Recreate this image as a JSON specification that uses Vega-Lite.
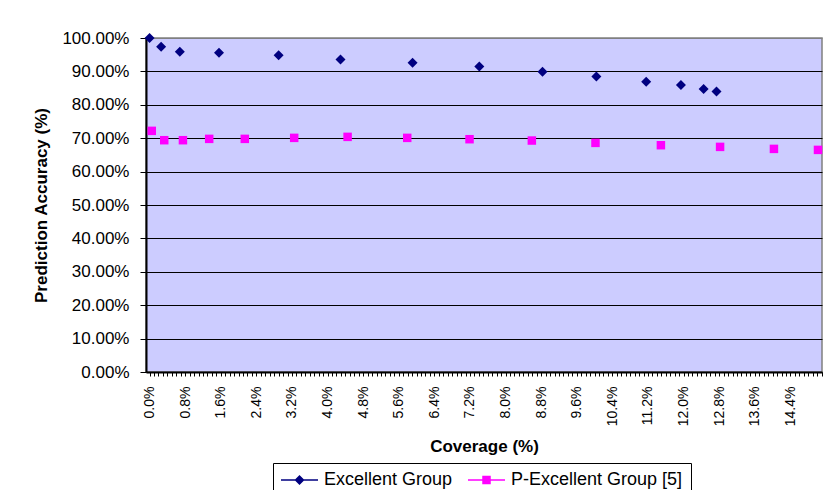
{
  "$schema": "https://vega.github.io/schema/vega-lite/v6.json",
  "width": 676,
  "height": 334,
  "autosize": {"type": "none"},
  "padding": {"left": 146, "top": 38, "right": 9, "bottom": 118},
  "background": "white",
  "config": {
    "font": "Liberation Sans",
    "view": {"fill": "#CCCCFF", "stroke": "#808080", "strokeWidth": 1.5}
  },
  "data": {
    "values": [
      {"series": "Excellent Group", "coverage": 0.0, "accuracy": 1.0},
      {"series": "Excellent Group", "coverage": 0.0026, "accuracy": 0.974},
      {"series": "Excellent Group", "coverage": 0.0068, "accuracy": 0.959},
      {"series": "Excellent Group", "coverage": 0.0156, "accuracy": 0.956},
      {"series": "Excellent Group", "coverage": 0.029, "accuracy": 0.948},
      {"series": "Excellent Group", "coverage": 0.0429, "accuracy": 0.936},
      {"series": "Excellent Group", "coverage": 0.0591, "accuracy": 0.926},
      {"series": "Excellent Group", "coverage": 0.0741, "accuracy": 0.915},
      {"series": "Excellent Group", "coverage": 0.0883, "accuracy": 0.899},
      {"series": "Excellent Group", "coverage": 0.1004, "accuracy": 0.885},
      {"series": "Excellent Group", "coverage": 0.1116, "accuracy": 0.869},
      {"series": "Excellent Group", "coverage": 0.1194, "accuracy": 0.859},
      {"series": "Excellent Group", "coverage": 0.1245, "accuracy": 0.847},
      {"series": "Excellent Group", "coverage": 0.1274, "accuracy": 0.84},
      {"series": "P-Excellent Group [5]", "coverage": 0.0005, "accuracy": 0.722},
      {"series": "P-Excellent Group [5]", "coverage": 0.0033, "accuracy": 0.694},
      {"series": "P-Excellent Group [5]", "coverage": 0.0075, "accuracy": 0.694},
      {"series": "P-Excellent Group [5]", "coverage": 0.0134, "accuracy": 0.698},
      {"series": "P-Excellent Group [5]", "coverage": 0.0214, "accuracy": 0.698},
      {"series": "P-Excellent Group [5]", "coverage": 0.0325, "accuracy": 0.701},
      {"series": "P-Excellent Group [5]", "coverage": 0.0445, "accuracy": 0.704},
      {"series": "P-Excellent Group [5]", "coverage": 0.0579, "accuracy": 0.701},
      {"series": "P-Excellent Group [5]", "coverage": 0.0719, "accuracy": 0.697},
      {"series": "P-Excellent Group [5]", "coverage": 0.0859, "accuracy": 0.693},
      {"series": "P-Excellent Group [5]", "coverage": 0.1002, "accuracy": 0.686},
      {"series": "P-Excellent Group [5]", "coverage": 0.1149, "accuracy": 0.679},
      {"series": "P-Excellent Group [5]", "coverage": 0.1282, "accuracy": 0.674},
      {"series": "P-Excellent Group [5]", "coverage": 0.1403, "accuracy": 0.668},
      {"series": "P-Excellent Group [5]", "coverage": 0.1502, "accuracy": 0.665}
    ]
  },
  "encoding": {
    "x": {
      "field": "coverage",
      "type": "quantitative",
      "scale": {"domain": [-0.0008, 0.1511], "nice": false, "zero": false},
      "axis": {
        "tickCount": 150,
        "labelExpr": "abs(round(datum.value*1000)) % 8 == 0 ? format(datum.value, '.1%') : ''",
        "labelAngle": -90,
        "labelFontSize": 14,
        "labelColor": "black",
        "labelPadding": 10,
        "labelOverlap": false,
        "labelFlush": false,
        "labelBound": false,
        "tickSize": 4,
        "tickColor": "black",
        "domainColor": "black",
        "domainWidth": 2,
        "grid": false,
        "title": "Coverage (%)",
        "titleFontSize": 17,
        "titleFontWeight": "bold",
        "titleColor": "black",
        "titleY": 66,
        "titleBaseline": "top"
      }
    },
    "y": {
      "field": "accuracy",
      "type": "quantitative",
      "scale": {"domain": [0, 1], "nice": false},
      "axis": {
        "values": [0, 0.1, 0.2, 0.3, 0.4, 0.5, 0.6, 0.7, 0.8, 0.9, 1.0],
        "format": ".2%",
        "labelFontSize": 17,
        "labelColor": "black",
        "labelPadding": 11,
        "tickSize": 6,
        "tickColor": "black",
        "domainColor": "black",
        "domainWidth": 2,
        "grid": true,
        "gridColor": {"condition": {"test": "datum.value == 1", "value": "#808080"}, "value": "black"},
        "gridWidth": 1,
        "gridOpacity": 1,
        "title": "Prediction Accuracy (%)",
        "titleFontSize": 17,
        "titleFontWeight": "bold",
        "titleColor": "black",
        "titleX": -105,
        "titleY": 167,
        "titleAlign": "center",
        "titleBaseline": "middle"
      }
    }
  },
  "layer": [
    {
      "mark": {"type": "point", "filled": true, "opacity": 0, "size": 100},
      "encoding": {
        "color": {
          "field": "series",
          "type": "nominal",
          "scale": {"domain": ["Excellent Group", "P-Excellent Group [5]"], "range": ["#000080", "#FF00FF"]},
          "legend": {
            "orient": "none",
            "legendX": 127,
            "legendY": 425,
            "direction": "horizontal",
            "title": null,
            "strokeColor": "black",
            "fillColor": "white",
            "padding": 8,
            "labelFontSize": 18,
            "labelColor": "black",
            "labelLimit": 400,
            "symbolSize": 100,
            "symbolOpacity": 1,
            "columnPadding": 12,
            "labelOffset": 25
          }
        },
        "shape": {
          "field": "series",
          "type": "nominal",
          "scale": {
            "domain": ["Excellent Group", "P-Excellent Group [5]"],
            "range": [
              "M-1.8,-0.15H5.6V0.15H-1.8ZM1.9,-1L2.9,0L1.9,1L0.9,0Z",
              "M-1.8,-0.15H5.6V0.15H-1.8ZM1.05,-0.85H2.75V0.85H1.05Z"
            ]
          },
          "legend": {
            "orient": "none",
            "legendX": 127,
            "legendY": 425,
            "direction": "horizontal",
            "title": null,
            "strokeColor": "black",
            "fillColor": "white",
            "padding": 8,
            "labelFontSize": 18,
            "labelColor": "black",
            "labelLimit": 400,
            "symbolSize": 100,
            "symbolOpacity": 1,
            "columnPadding": 12,
            "labelOffset": 25
          }
        }
      }
    },
    {
      "transform": [{"filter": "datum.series === 'Excellent Group'"}],
      "mark": {"type": "point", "filled": true, "opacity": 1, "shape": "diamond", "size": 100},
      "encoding": {"color": {"field": "series", "type": "nominal", "legend": null}}
    },
    {
      "transform": [{"filter": "datum.series !== 'Excellent Group'"}],
      "mark": {"type": "point", "filled": true, "opacity": 1, "shape": "square", "size": 72},
      "encoding": {"color": {"field": "series", "type": "nominal", "legend": null}}
    }
  ]
}
